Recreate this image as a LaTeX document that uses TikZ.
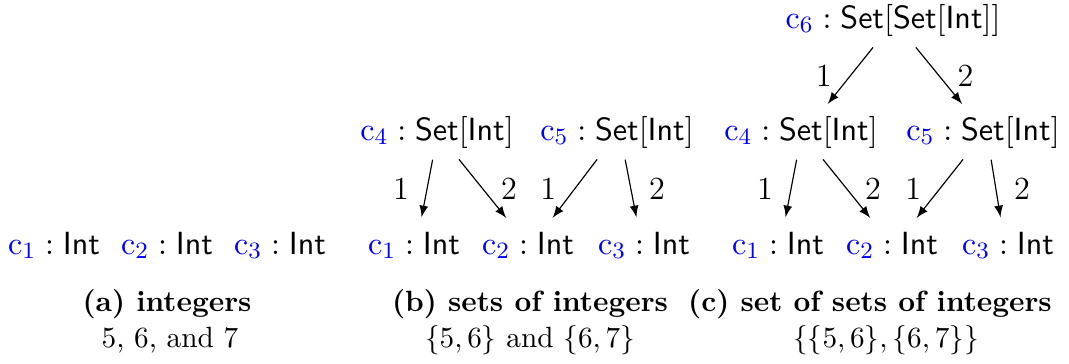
\documentclass[tikz,border=0pt]{standalone}
\usepackage{amsmath}
\usepackage{tikz}
\usetikzlibrary{arrows}
\newcommand{\cv}[1]{\textcolor{blue}{\mathrm{c}_{#1}}}
\newcommand{\tp}[1]{\mathsf{#1}}
\tikzset{
  t/.style={anchor=base, inner sep=3.33pt, text height=8pt, text depth=2.7pt,
    font=\fontsize{11}{13}\selectfont},
  e/.style={-latex, shorten >=1pt, shorten <=0.5pt},
  lab/.style={midway, inner sep=1pt, font=\fontsize{11}{13}\selectfont},
  captext/.style={anchor=base, inner sep=0pt}}

\begin{document}
\begin{tikzpicture}[x=1.2cm, y=-1.2cm]
\useasboundingbox (0,0) rectangle (10.69,3.63);
% (a)
\node[t] (a1) at (0.54,2.54) {$\cv{1}:\tp{Int}$};
\node[t] (a2) at (1.67,2.54) {$\cv{2}:\tp{Int}$};
\node[t] (a3) at (2.80,2.54) {$\cv{3}:\tp{Int}$};
\node[captext] (capa) at (1.67,3.11) {\bfseries (a) integers};
\node[captext] (suba) at (1.70,3.47) {5, 6, and 7};
% (b)
\node[t] (b4) at (4.37,1.40) {$\cv{4}:\tp{Set[Int]}$};
\node[t] (b5) at (6.17,1.40) {$\cv{5}:\tp{Set[Int]}$};
\node[t] (b1) at (4.14,2.54) {$\cv{1}:\tp{Int}$};
\node[t] (b2) at (5.28,2.54) {$\cv{2}:\tp{Int}$};
\node[t] (b3) at (6.44,2.54) {$\cv{3}:\tp{Int}$};
\draw[e] ([xshift=-1.4pt]b4.south) -- node[lab,left=5pt] {1} ([xshift=2.4pt]b1.north);
\draw[e] ([xshift=7.2pt]b4.south) -- node[lab,right=5pt] {2} ([xshift=-6.8pt]b2.north);
\draw[e] ([xshift=-6.5pt]b5.south) -- node[lab,left=5pt] {1} ([xshift=7.8pt]b2.north);
\draw[e] ([xshift=2.7pt]b5.south) -- node[lab,right=5pt] {2} ([xshift=-2.4pt]b3.north);
\node[captext] (capb) at (5.30,3.11) {\bfseries (b) sets of integers};
\node[captext] (subb) at (5.30,3.47) {$\{5,6\}$ and $\{6,7\}$};
% (c)
\node[t] (c6) at (8.93,0.28) {$\cv{6}:\tp{Set[Set[Int]]}$};
\node[t] (c4) at (8.01,1.40) {$\cv{4}:\tp{Set[Int]}$};
\node[t] (c5) at (9.83,1.40) {$\cv{5}:\tp{Set[Int]}$};
\node[t] (c1) at (7.78,2.54) {$\cv{1}:\tp{Int}$};
\node[t] (c2) at (8.92,2.54) {$\cv{2}:\tp{Int}$};
\node[t] (c3) at (10.08,2.54) {$\cv{3}:\tp{Int}$};
\draw[e] ([xshift=-6.5pt]c6.south) -- node[lab,left=5pt] {1} ([xshift=8.5pt]c4.north);
\draw[e] ([xshift=7.5pt]c6.south) -- node[lab,right=5pt] {2} ([xshift=-6.5pt]c5.north);
\draw[e] ([xshift=-1.4pt]c4.south) -- node[lab,left=5pt] {1} ([xshift=2.4pt]c1.north);
\draw[e] ([xshift=7.2pt]c4.south) -- node[lab,right=5pt] {2} ([xshift=-6.8pt]c2.north);
\draw[e] ([xshift=-6.5pt]c5.south) -- node[lab,left=5pt] {1} ([xshift=7.8pt]c2.north);
\draw[e] ([xshift=2.7pt]c5.south) -- node[lab,right=5pt] {2} ([xshift=-2.4pt]c3.north);
\node[captext] (capc) at (8.70,3.11) {\bfseries (c) set of sets of integers};
\node[captext] (subc) at (8.86,3.47) {$\{\{5,6\},\{6,7\}\}$};
\end{tikzpicture}
\end{document}
